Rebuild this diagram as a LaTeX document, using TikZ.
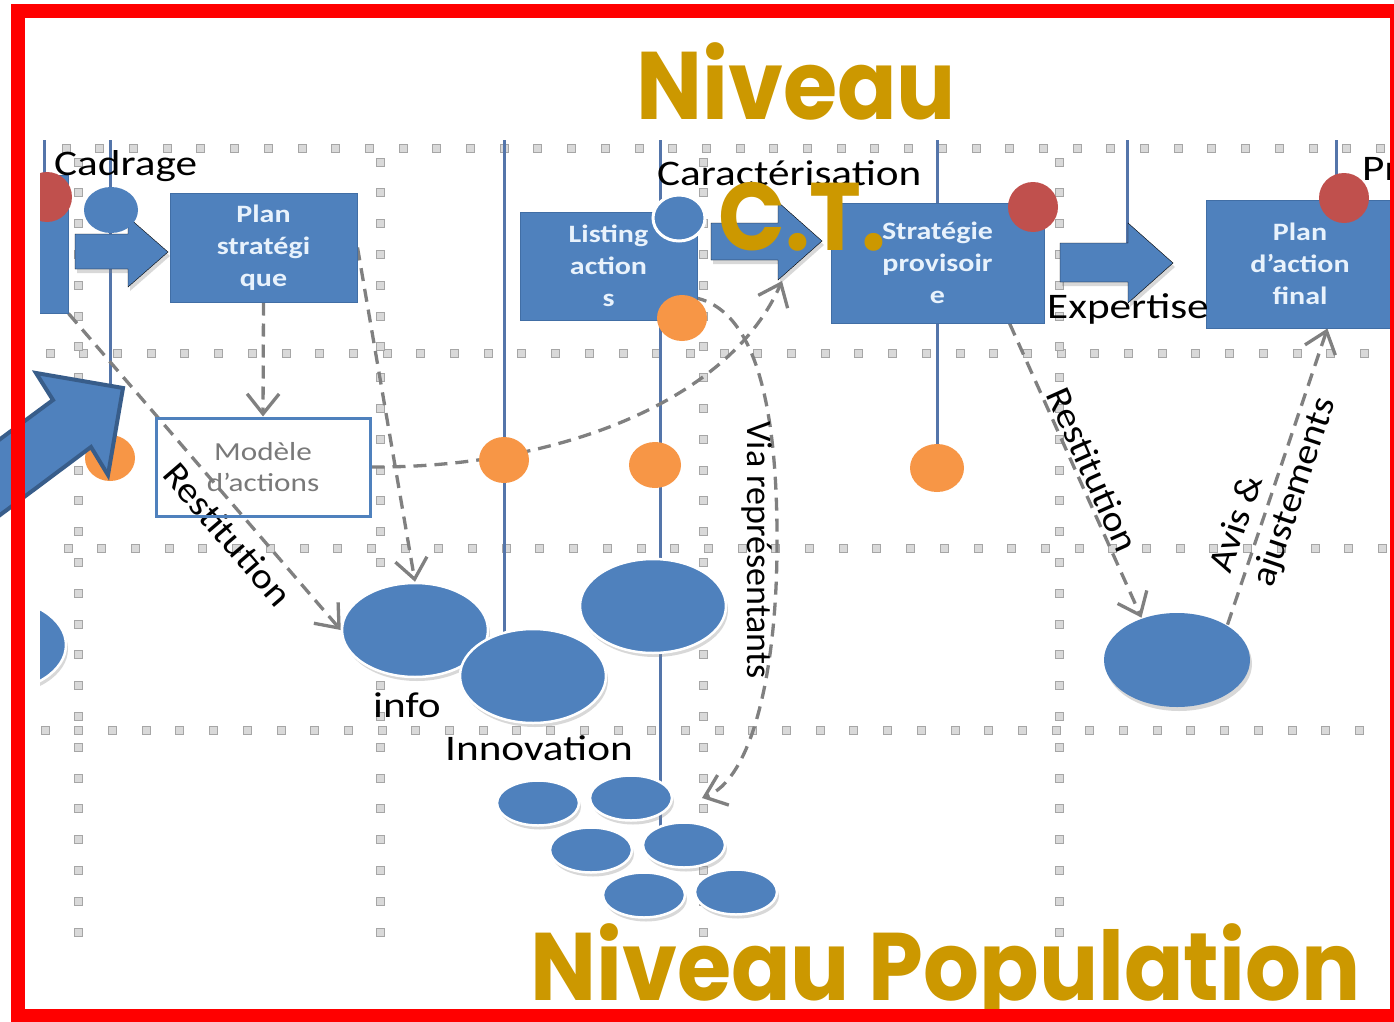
\documentclass[tikz,border=0pt]{standalone}
\usepackage{fontspec}
\usetikzlibrary{shapes.geometric,arrows.meta,shadows}
\setmainfont{Carlito}
\newfontfamily\boxfont{Carlito}[FakeStretch=1.2]
\newfontfamily\slopefont{Carlito}[FakeStretch=1.1]
\newfontfamily\goldfont{Poppins}[FakeStretch=0.915]

\definecolor{boxblue}{RGB}{79,129,189}
\definecolor{boxedge}{RGB}{65,110,165}
\definecolor{boxtext}{RGB}{232,242,252}
\definecolor{lineblue}{RGB}{84,117,170}
\definecolor{arrowedge}{RGB}{56,93,138}
\definecolor{dotorange}{RGB}{247,150,70}
\definecolor{dotred}{RGB}{192,80,77}
\definecolor{dashgray}{RGB}{128,128,128}
\definecolor{gold}{RGB}{204,152,0}
\definecolor{gridfill}{RGB}{217,217,217}
\definecolor{griddraw}{RGB}{166,166,166}

\pgfdeclarelayer{back}
\pgfsetlayers{back,main}

\begin{document}
\begin{tikzpicture}[x=1pt,y=-1pt,
  gridsq/.style={fill=gridfill, draw=griddraw, line width=0.8pt},
  vline/.style={draw=lineblue, line width=3pt},
  box/.style={rectangle, fill=boxblue, draw=boxedge, line width=1pt, inner sep=0pt, align=center, text=boxtext, font=\boxfont\bfseries\fontsize{25}{32}\selectfont},
  modelbox/.style={rectangle, draw=boxblue, line width=3pt, inner sep=0pt, align=center, text=gray!95!black, font=\boxfont\fontsize{26}{31}\selectfont},
  bluedot/.style={ellipse, fill=boxblue, inner sep=0pt, minimum width=54pt, minimum height=46pt},
  reddot/.style={circle, fill=dotred, inner sep=0pt, minimum size=50pt},
  orangedot/.style={ellipse, fill=dotorange, inner sep=0pt, minimum width=50pt, minimum height=46pt},
  blob/.style={ellipse, fill=boxblue, draw=white, line width=2.5pt, inner sep=0pt, minimum width=146pt, minimum height=94pt, drop shadow={opacity=0.3, shadow xshift=2pt, shadow yshift=-4pt}},
  smallblob/.style={blob, minimum width=82pt, minimum height=45pt},
  blockarr/.style={fill=boxblue, drop shadow={opacity=0.3, shadow xshift=2pt, shadow yshift=-4pt}},
  link/.style={draw=dashgray, line width=3.3pt, dash pattern=on 13pt off 8pt, -{Straight Barb[length=20pt,width=32pt]}},
  lbl/.style={inner sep=0pt, font=\boxfont\fontsize{36}{40}\selectfont},
  slopelbl/.style={inner sep=0pt, font=\slopefont\fontsize{36}{44}\selectfont},
  goldtxt/.style={inner sep=0pt, text=gold, font=\goldfont\bfseries\fontsize{96}{100}\selectfont}]

\useasboundingbox (0,0) rectangle (1394,1022);

\begin{pgfonlayer}{back}
\fill[white] (0,0) rectangle (1394,1022);
% dotted grid
\foreach \gy/\gx in {148/66,353/50,548/68,730/45}
  \foreach \k in {0,...,39}
    \filldraw[gridsq] ({\gx+33.7*\k-4},{\gy-4}) rectangle +(8,8);
\foreach \gx in {78,380,703,1059}
  \foreach \k in {0,...,25}
    \filldraw[gridsq] ({\gx-4},{162+30.8*\k-4}) rectangle +(8,8);
% time lines
\draw[vline] (44,140) -- (44,195);
\draw[vline] (110,140) -- (110,458);
\draw[vline] (504,140) -- (504,640);
\draw[vline] (660,140) -- (660,862);
\draw[vline] (937,140) -- (937,468);
\draw[vline] (1127,140) -- (1127,250);
\draw[vline] (1336,140) -- (1336,195);
\end{pgfonlayer}

% cut-off shapes on the left
\begin{scope}
\clip (40,0) rectangle (1394,1022);
\node[box, minimum width=120pt, minimum height=138pt] (lbox) at (8,244) {};
\node[reddot] (lred) at (47,197) {};
\node[blob] (lpop) at (-7,645) {};
\end{scope}

% block arrows
\filldraw[blockarr] (75,234) -- (128,234) -- (128,217) -- (168,252) -- (128,287) -- (128,269) -- (75,269) -- cycle;
\filldraw[blockarr] (711,223) -- (778,223) -- (778,202) -- (822,241) -- (778,280) -- (778,260) -- (711,260) -- cycle;
\filldraw[blockarr] (1060,243) -- (1128,243) -- (1128,223) -- (1173,263) -- (1128,303) -- (1128,282) -- (1060,282) -- cycle;

% steps
\node[box, minimum width=187pt, minimum height=109pt] (plan) at (263.5,247.5) {Plan\\stratégi\\que};
\node[box, minimum width=177pt, minimum height=108pt] (listing) at (608.5,266) {Listing\\action\\s};
\node[box, minimum width=213pt, minimum height=120pt] (strat) at (937.5,263) {Stratégie\\provisoir\\e};
\node[box, minimum width=188pt, minimum height=128pt] (final) at (1300,264) {Plan\\d’action\\final};
\node[modelbox, minimum width=214pt, minimum height=98pt] (model) at (263,467) {Modèle\\d’actions};

% dots
\node[bluedot] (cadre) at (111,210) {};
\node[bluedot, draw=white, line width=3pt, minimum width=52pt] (carac) at (679,218) {};
\node[reddot] (stratred) at (1033,207) {};
\node[reddot] (finalred) at (1344,198) {};
\node[orangedot] (or1) at (110,458) {};
\node[orangedot] (lor) at (682,318) {};
\node[orangedot] (or2) at (504,460) {};
\node[orangedot, minimum width=52pt] (or3) at (655,465) {};
\node[orangedot, minimum width=54pt, minimum height=48pt] (or4) at (937,468) {};

% groups
\node[blob] (info) at (415,630) {};
\node[blob] (innov) at (533,676) {};
\node[blob] (ideas) at (653,606) {};
\node[blob, draw=none] (pop) at (1177,660) {};
\foreach \i/\px/\py in {1/538/803,2/631/798,3/591/850,4/684/845,5/644/895,6/736/892}
  \node[smallblob] (crowd\i) at (\px,\py) {};

% big arrow
\filldraw[fill=boxblue, draw=arrowedge, line width=4pt] (-20,454) -- (53,400) -- (36,373) -- (123,388) -- (108,475) -- (91,447) -- (-20,530) -- cycle;

\coordinate (ctin) at (782,281);
\coordinate (viaend) at (702,798);

\begin{pgfonlayer}{back}
\draw[link] (plan.south) -- (model.north);
\draw[link] (plan.east) -- (info.north);
\draw[link] (lbox.south east) -- (info.west) node[slopelbl, sloped, below=9pt, pos=0.65] (rest1) {Restitution};
\draw[link] (model.east) .. controls (560,468) and (730,400) .. (ctin);
\draw[link] (lor.60) .. controls (760,310) and (778,420) .. (777,550) .. controls (776,680) and (750,780) .. (viaend);
\draw[link] (strat.-40) -- (pop.130) node[slopelbl, sloped, above=2pt, pos=0.52] (rest2) {Restitution};
\draw[link] (pop.35) -- (final.-67) node[slopelbl, sloped, pos=0.47, align=left] (avis) {Avis \&\\ajustements};
\end{pgfonlayer}

% labels
\node[lbl, anchor=base west] (cadrage) at (54,175) {Cadrage};
\node[lbl, anchor=base west] (caract) at (657,185) {Caractérisation};
\node[lbl, anchor=base west] (expert) at (1047,318) {Expertise};
\node[lbl, anchor=base west] (infolbl) at (373,717) {info};
\node[lbl, anchor=base west] (innovlbl) at (445,760) {Innovation};
\node[lbl, anchor=base west] (pr) at (1362,180) {Pr};
\node[inner sep=0pt, font=\fontsize{36}{40}\selectfont, rotate=-90] (via) at (757,550) {Via représentants};

% titles
\node[goldtxt, anchor=base west] (niv) at (636,120) {Niveau};
\node[goldtxt, anchor=base west] (ct) at (718,250) {C.T.};
\node[goldtxt, anchor=base west] (nivpop) at (530,1000) {Niveau Population};

\draw[red, line width=14pt] (17.5,11.5) rectangle (1397,1016);
\end{tikzpicture}
\end{document}
